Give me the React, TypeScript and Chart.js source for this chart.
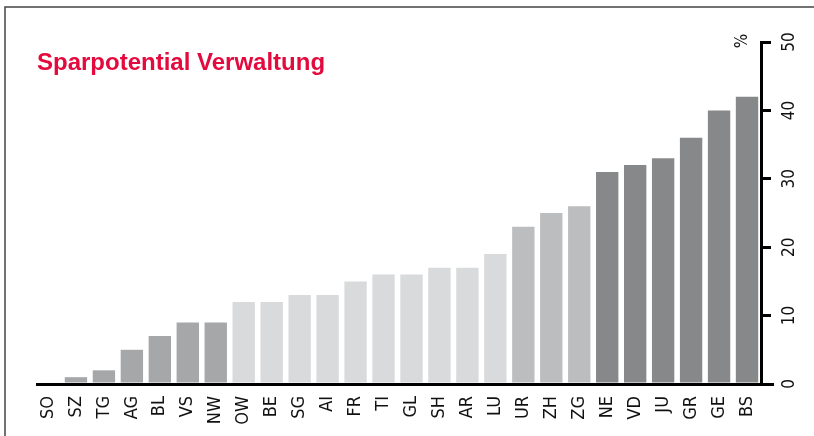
import React, { useEffect, useRef } from "react";
import { Chart, registerables } from "chart.js";

Chart.register(...registerables);

const categories = ["SO", "SZ", "TG", "AG", "BL", "VS", "NW", "OW", "BE", "SG", "AI", "FR", "TI", "GL", "SH", "AR", "LU", "UR", "ZH", "ZG", "NE", "VD", "JU", "GR", "GE", "BS"];
const values = [0, 1, 2, 5, 7, 9, 9, 12, 12, 13, 13, 15, 16, 16, 17, 17, 19, 23, 25, 26, 31, 32, 33, 36, 40, 42];
const groups = [1, 1, 1, 1, 1, 1, 1, 2, 2, 2, 2, 2, 2, 2, 2, 2, 2, 3, 3, 3, 4, 4, 4, 4, 4, 4];
const groupColors: Record<number, string> = { 1: "#a6a7a9", 2: "#d9dadb", 3: "#bcbdbf", 4: "#87888a" };
const yTicks = [0, 10, 20, 30, 40, 50];
const title = "Sparpotential Verwaltung";
const unit = "%";

const FONT = '"Liberation Sans Narrow", "DejaVu Sans Condensed", "Liberation Sans", sans-serif';

export default function App() {
  const ref = useRef<HTMLCanvasElement | null>(null);
  useEffect(() => {
    if (!ref.current) return;
    const overlay = {
      id: "overlay",
      beforeDraw(chart: any) {
        const ctx = chart.ctx;
        ctx.save();
        ctx.fillStyle = "#ffffff";
        ctx.fillRect(0, 0, chart.width, chart.height);
        ctx.strokeStyle = "#444444";
        ctx.lineWidth = 1.5;
        ctx.beginPath();
        ctx.moveTo(5, chart.height);
        ctx.lineTo(5, 7);
        ctx.lineTo(chart.width, 7);
        ctx.stroke();
        ctx.fillStyle = "#e30a3e";
        ctx.font = 'bold 24px "Liberation Sans", Arial, sans-serif';
        ctx.textAlign = "left";
        ctx.textBaseline = "alphabetic";
        ctx.fillText(title, 37, 70);
        ctx.restore();
      },
      afterDraw(chart: any) {
        const ctx = chart.ctx;
        const y = chart.scales.y;
        const area = chart.chartArea;
        ctx.save();
        ctx.strokeStyle = "#000";
        ctx.lineWidth = 3;
        ctx.beginPath();
        const by = y.getPixelForValue(0);
        ctx.moveTo(36, by + 0.5);
        ctx.lineTo(area.right + 13, by + 0.5);
        ctx.stroke();
        ctx.fillStyle = "#111";
        ctx.font = "17px " + FONT;
        ctx.textAlign = "center";
        ctx.textBaseline = "middle";
        for (const v of yTicks) {
          const py = y.getPixelForValue(v);
          ctx.save();
          ctx.translate(area.right + 29, py);
          ctx.rotate(-Math.PI / 2);
          ctx.fillText(String(v), 0, 0);
          ctx.restore();
        }
        ctx.save();
        ctx.translate(area.right - 18, y.getPixelForValue(50) - 1);
        ctx.rotate(-Math.PI / 2);
        ctx.fillText(unit, 0, 0);
        ctx.restore();
        ctx.restore();
      },
    };
    const chart = new Chart(ref.current, {
      type: "bar",
      data: {
        labels: categories,
        datasets: [
          {
            data: values,
            backgroundColor: groups.map((g) => groupColors[g]),
            barPercentage: 0.8,
            categoryPercentage: 1,
          },
        ],
      },
      options: {
        animation: false,
        responsive: false,
        layout: { padding: { left: 34, top: 42, right: 0, bottom: 0 } },
        plugins: { legend: { display: false }, tooltip: { enabled: false }, title: { display: false } },
        scales: {
          x: {
            grid: { display: false, drawTicks: false },
            border: { display: false },
            ticks: {
              minRotation: 90,
              maxRotation: 90,
              autoSkip: false,
              padding: 12,
              color: "#111",
              font: { family: FONT, size: 18 },
            },
            afterFit(scale: any) {
              scale.height = 52;
            },
          },
          y: {
            position: "right",
            min: 0,
            max: 50,
            ticks: { stepSize: 10, display: false },
            grid: { drawOnChartArea: false, tickLength: 10, lineWidth: 3, color: "#000" },
            border: { display: true, width: 3, color: "#000" },
            afterFit(scale: any) {
              scale.width = 53;
            },
          },
        },
      },
      plugins: [overlay],
    } as any);
    return () => chart.destroy();
  }, []);
  return (
    <div style={{ position: "fixed", left: 0, top: 0, width: 814, height: 436 }}>
      <canvas ref={ref} width={814} height={436} style={{ display: "block" }} />
    </div>
  );
}
